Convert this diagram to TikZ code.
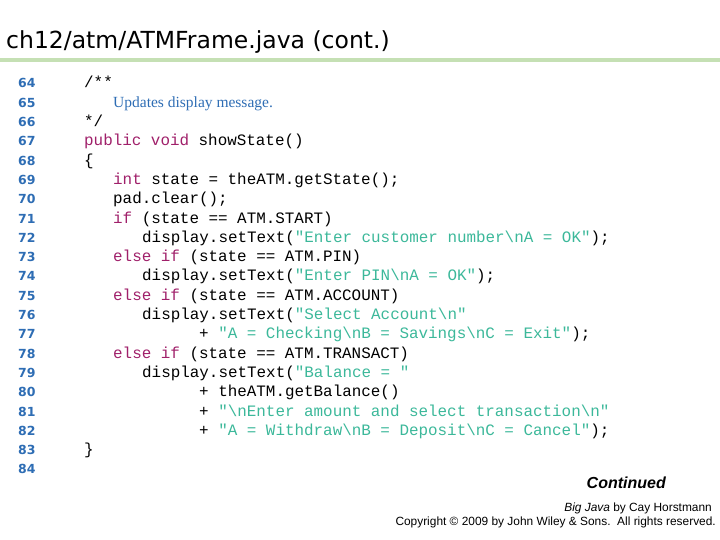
\documentclass[tikz,border=0pt]{standalone}
\usepackage{fontspec}
\setmainfont{Liberation Serif}
\setsansfont{DejaVu Sans}
\setmonofont{Liberation Mono}
\newfontfamily\arialfont{Liberation Sans}
\usetikzlibrary{positioning}
\definecolor{kwcol}{HTML}{A0206A}
\definecolor{strcol}{HTML}{3CB89A}
\definecolor{numcol}{HTML}{2E6DB4}
\definecolor{barcol}{HTML}{C5E0B4}
\newcommand{\kw}[1]{\textcolor{kwcol}{#1}}
\newcommand{\jstr}[1]{\textcolor{strcol}{#1}}
\newcommand{\bs}{\textbackslash}
\begin{document}
\begin{tikzpicture}[
    x=1pt, y=1pt,
    lnum/.style = {anchor=base west, inner sep=0pt, font=\sffamily\bfseries\fontsize{12.5}{14}\selectfont, text=numcol},
    code/.style = {anchor=base west, inner sep=0pt, font=\ttfamily\fontsize{15.9}{19}\selectfont}
  ]
  \useasboundingbox (0,0) rectangle (720,540);

  % title and bar
  \node[anchor=base west, inner sep=0pt, font=\sffamily\fontsize{23.5}{28}\selectfont] (title) at (6,491) {ch12/atm/ATMFrame.java (cont.)};
  \fill[barcol] (0,478) rectangle (720,482);

  % line numbers
  \foreach \n [count=\i from 0] in {64,...,84}
    \node[lnum] (n\n) at (18,{452-19.3*\i}) {\n};

  % code, indent unit = 9.55
  \node[code] (c64) at (84,452) {/**};
  \node[anchor=base west, inner sep=0pt, font=\fontsize{15.5}{18}\selectfont, text=numcol] (c65) at (113,{452-19.3}) {Updates display message.};
  \node[code] (c66) at (84,{452-19.3*2}) {*/};
  \node[code] (c67) at (84,{452-19.3*3}) {\kw{public} \kw{void} showState()};
  \node[code] (c68) at (84,{452-19.3*4}) {\{};
  \node[code] (c69) at (113,{452-19.3*5}) {\kw{int} state = theATM.getState();};
  \node[code] (c70) at (113,{452-19.3*6}) {pad.clear();};
  \node[code] (c71) at (113,{452-19.3*7}) {\kw{if} (state == ATM.START)};
  \node[code] (c72) at (142,{452-19.3*8}) {display.setText(\jstr{"Enter customer number\bs nA = OK"});};
  \node[code] (c73) at (113,{452-19.3*9}) {\kw{else} \kw{if} (state == ATM.PIN)};
  \node[code] (c74) at (142,{452-19.3*10}) {display.setText(\jstr{"Enter PIN\bs nA = OK"});};
  \node[code] (c75) at (113,{452-19.3*11}) {\kw{else} \kw{if} (state == ATM.ACCOUNT)};
  \node[code] (c76) at (142,{452-19.3*12}) {display.setText(\jstr{"Select Account\bs n"}};
  \node[code] (c77) at (199,{452-19.3*13}) {+ \jstr{"A = Checking\bs nB = Savings\bs nC = Exit"});};
  \node[code] (c78) at (113,{452-19.3*14}) {\kw{else} \kw{if} (state == ATM.TRANSACT)};
  \node[code] (c79) at (142,{452-19.3*15}) {display.setText(\jstr{"Balance = "}};
  \node[code] (c80) at (199,{452-19.3*16}) {+ theATM.getBalance()};
  \node[code] (c81) at (199,{452-19.3*17}) {+ \jstr{"\bs nEnter amount and select transaction\bs n"}};
  \node[code] (c82) at (199,{452-19.3*18}) {+ \jstr{"A = Withdraw\bs nB = Deposit\bs nC = Cancel"});};
  \node[code] (c83) at (84,{452-19.3*19}) {\}};

  % footer
  \node[anchor=base east, inner sep=0pt, font=\arialfont\bfseries\itshape\fontsize{16}{19}\selectfont] (cont) at (666,51) {Continued};
  \node[anchor=base east, inner sep=0pt, font=\arialfont\fontsize{11.9}{14}\selectfont] (book) at (712,28) {\textit{Big Java} by Cay Horstmann};
  \node[anchor=base east, inner sep=0pt, font=\arialfont\fontsize{11.9}{14}\selectfont] (copy) at (716,14) {Copyright \textcopyright{} 2009 by John Wiley \& Sons.\ \ All rights reserved.};
\end{tikzpicture}
\end{document}
